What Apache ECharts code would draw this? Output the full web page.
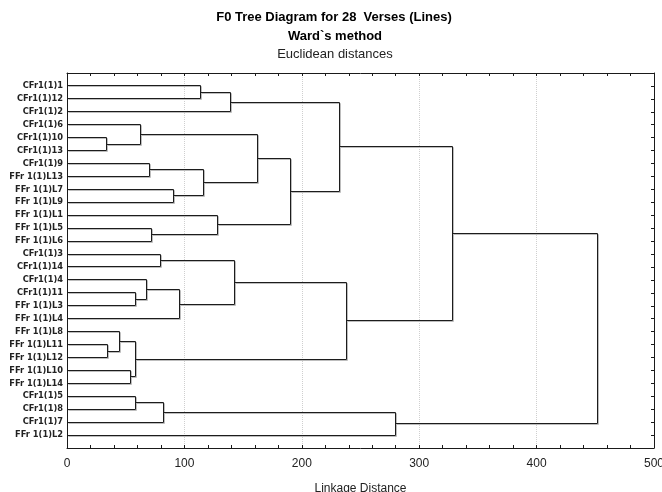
<!DOCTYPE html>
<html><head><meta charset="utf-8">
<script src="https://cdn.jsdelivr.net/npm/echarts@6.0.0/dist/echarts.min.js"></script>
<style>html,body{margin:0;padding:0;background:#fff}#c{width:662px;height:492px}</style>
</head><body><div id="c"></div>
<script>
// Leaves, top to bottom
const leafLabels = [
  'CFr1(1)1','CFr1(1)12','CFr1(1)2','CFr1(1)6','CFr1(1)10','CFr1(1)13','CFr1(1)9',
  'FFr 1(1)L13','FFr 1(1)L7','FFr 1(1)L9','FFr 1(1)L1','FFr 1(1)L5','FFr 1(1)L6',
  'CFr1(1)3','CFr1(1)14','CFr1(1)4','CFr1(1)11','FFr 1(1)L3','FFr 1(1)L4',
  'FFr 1(1)L8','FFr 1(1)L11','FFr 1(1)L12','FFr 1(1)L10','FFr 1(1)L14',
  'CFr1(1)5','CFr1(1)8','CFr1(1)7','FFr 1(1)L2'
];
// Merges: child ids (0..27 leaves, 28+k = k-th merge) and linkage distance
const mergeLeft   = [4, 20, 19, 22, 24, 16, 30, 3, 15, 6, 11, 13, 32, 8, 36, 0, 37, 10, 43, 39, 35, 48, 46, 47, 40, 50, 53];
const mergeRight  = [5, 21, 29, 23, 25, 17, 31, 28, 33, 7, 12, 14, 26, 9, 18, 1, 41, 38, 2, 42, 44, 45, 49, 34, 27, 51, 52];
const mergeHeight = [33.4, 34.9, 45.1, 53.9, 58.1, 58.7, 58.7, 62.6, 67.7, 70.6, 72.0, 79.4, 82.2, 91.0, 95.5,
                     113.7, 116.5, 128.4, 139.2, 142.6, 162.5, 190.8, 231.9, 237.9, 279.9, 328.1, 451.7];
const xTickMin = 0, xTickMax = 500, xTickStep = 100;

const nLeaves = leafLabels.length;
const nodeY = leafLabels.map((_, i) => i);
const nodeX = leafLabels.map(() => 0);
mergeHeight.forEach((h, k) => {
  nodeY.push((nodeY[mergeLeft[k]] + nodeY[mergeRight[k]]) / 2);
  nodeX.push(h);
});
const seriesData = mergeHeight.map((h, k) => [h, nodeY[nLeaves + k], k]);

const chart = echarts.init(document.getElementById('c'));
const FRAME = '#1a1a1a';
const snap = p => [Math.round(p[0] - 0.5) + 0.5, Math.round(p[1] - 0.5) + 0.5];

function renderItem(params, api) {
  const k = params.dataIndex;
  const a = mergeLeft[k], b = mergeRight[k], h = mergeHeight[k];
  const pts = [
    api.coord([nodeX[a], nodeY[a]]),
    api.coord([h, nodeY[a]]),
    api.coord([h, nodeY[b]]),
    api.coord([nodeX[b], nodeY[b]])
  ].map(snap);
  const shadow = pts.map(p => [p[0] + 1, p[1] + 1]);
  return {
    type: 'group',
    children: [
      { type: 'polyline', shape: { points: shadow }, style: { stroke: '#bdbdbd', lineWidth: 1, fill: null } },
      { type: 'polyline', shape: { points: pts }, style: { stroke: '#1c1c1c', lineWidth: 1, fill: null } }
    ]
  };
}

const axisCommonX = {
  type: 'value', min: xTickMin, max: xTickMax, interval: xTickStep,
  axisLine: { show: true, onZero: false, lineStyle: { color: FRAME, width: 1 } },
  axisTick: { show: true, inside: true, length: 3, lineStyle: { color: FRAME } },
  minorTick: { show: true, splitNumber: 5, length: 3, lineStyle: { color: FRAME } }
};
const axisCommonY = {
  type: 'value', inverse: true, min: -1, max: nLeaves, interval: 1,
  axisLine: { show: true, onZero: false, lineStyle: { color: FRAME, width: 1 } },
  splitLine: { show: false }
};

chart.setOption({
  animation: false,
  backgroundColor: '#fff',
  grid: { left: 67, right: 8, top: 73, bottom: 44, outerBoundsMode: 'none', containLabel: false },
  graphic: [
    { type: 'text', x: 334, y: 17, style: { text: 'F0 Tree Diagram for 28  Verses (Lines)', textAlign: 'center', textVerticalAlign: 'middle', font: 'bold 13px "Liberation Sans", Arial, sans-serif', fill: '#000' } },
    { type: 'text', x: 335, y: 36, style: { text: 'Ward`s method', textAlign: 'center', textVerticalAlign: 'middle', font: 'bold 13px "Liberation Sans", Arial, sans-serif', fill: '#000' } },
    { type: 'text', x: 335, y: 54, style: { text: 'Euclidean distances', textAlign: 'center', textVerticalAlign: 'middle', font: '13px "Liberation Sans", Arial, sans-serif', fill: '#222' } }
  ],
  xAxis: [
    Object.assign({}, axisCommonX, {
      position: 'bottom',
      splitLine: { show: true, lineStyle: { color: '#cfcfcf', type: 'dotted', width: 1 } },
      axisLabel: { show: true, margin: 10, fontSize: 12, color: '#222', fontFamily: '"Liberation Sans", Arial, sans-serif' },
      name: 'Linkage Distance', nameLocation: 'middle', nameGap: 35,
      nameTextStyle: { fontSize: 12, color: '#222', fontFamily: '"Liberation Sans", Arial, sans-serif' }
    }),
    Object.assign({}, axisCommonX, {
      position: 'top',
      splitLine: { show: false },
      axisLabel: { show: false }
    })
  ],
  yAxis: [
    Object.assign({}, axisCommonY, {
      position: 'left',
      axisTick: { show: false },
      axisLabel: {
        show: true, margin: 4, fontSize: 8.3, fontWeight: 'bold', color: '#222',
        fontFamily: '"DejaVu Sans", sans-serif',
        formatter: v => (Number.isInteger(v) && v >= 0 && v < nLeaves) ? leafLabels[v] : ''
      }
    }),
    Object.assign({}, axisCommonY, {
      position: 'right',
      axisTick: { show: true, inside: true, length: 3, lineStyle: { color: FRAME } },
      axisLabel: { show: false }
    })
  ],
  series: [{
    type: 'custom',
    xAxisIndex: 0, yAxisIndex: 0,
    renderItem: renderItem,
    encode: { x: 0, y: 1 },
    data: seriesData,
    clip: false,
    silent: true
  }]
});
</script>
</body></html>
